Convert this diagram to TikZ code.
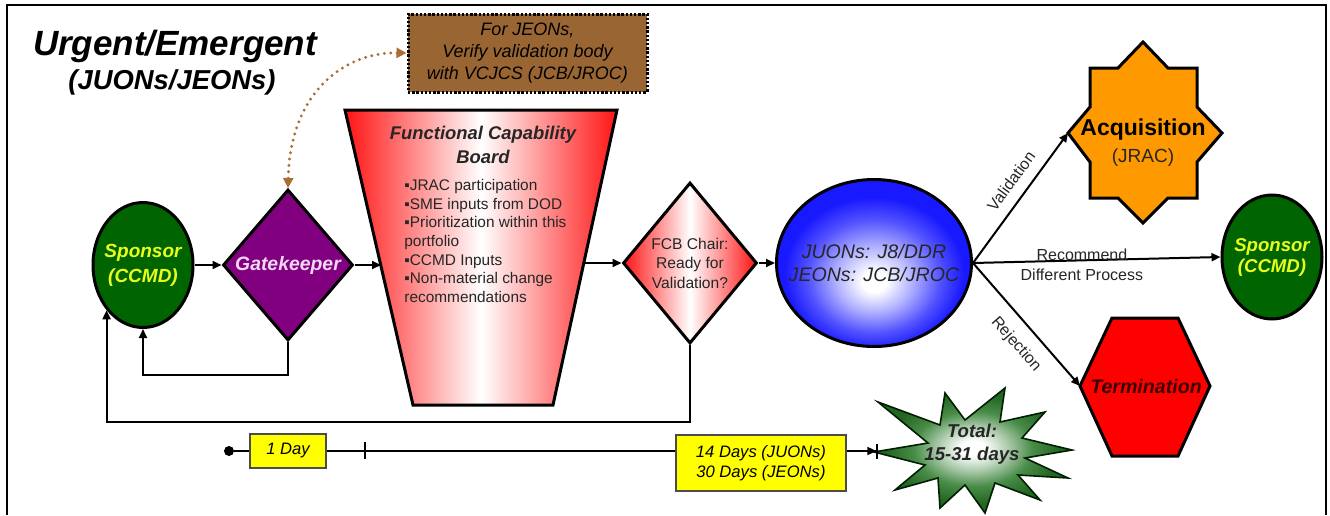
\documentclass[tikz,border=0pt]{standalone}
\usepackage{fontspec}
\setmainfont{Liberation Sans}
\usetikzlibrary{arrows.meta,shapes.geometric,calc}
\definecolor{sgreen}{RGB}{0,100,0}
\definecolor{syellow}{RGB}{232,255,30}
\definecolor{gpurple}{RGB}{128,0,128}
\definecolor{gtext}{RGB}{245,215,245}
\definecolor{bbrown}{RGB}{153,102,51}
\definecolor{dbrown}{RGB}{170,110,50}
\definecolor{aorange}{RGB}{255,153,0}
\definecolor{tred}{RGB}{255,0,0}
\definecolor{ttext}{RGB}{60,0,0}
\definecolor{byellow}{RGB}{255,255,0}
\definecolor{bblue}{RGB}{25,25,255}
\definecolor{sgreen2}{RGB}{40,120,40}
\definecolor{fred}{RGB}{255,20,20}
\pgfdeclareradialshading{blueball}{\pgfpoint{0bp}{-6bp}}{color(0bp)=(white); color(3bp)=(white); color(10bp)=(bblue!35!white); color(17bp)=(bblue!75!white); color(23bp)=(bblue); color(50bp)=(bblue)}
\pgfdeclareradialshading{greenburst}{\pgfpoint{0bp}{1bp}}{color(0bp)=(white); color(3bp)=(white); color(9bp)=(sgreen2!40!white); color(15bp)=(sgreen2!85!white); color(22bp)=(sgreen2!85!black); color(50bp)=(sgreen2!80!black)}
\newcommand{\myfs}[2]{\fontsize{#1}{#2}\selectfont}
\begin{document}
\begin{tikzpicture}[x=0.5pt,y=-0.5pt,
  conn/.style={line width=1pt,-{Triangle[length=4.5pt,width=4pt]}},
  plainline/.style={line width=0.8pt},
  outline/.style={draw=black,line width=1.5pt},
  ybox/.style={draw=black!70,line width=0.6pt,fill=byellow,inner sep=0,font=\myfs{8.3}{10}\itshape,align=center},
  lbl/.style={font=\myfs{8}{9.5},text=black!85},
  browndot/.style={draw=dbrown,line width=1.6pt,line cap=round,dash pattern=on 0pt off 3.2pt,
    {Triangle[length=5pt,width=5pt,fill=dbrown]}-{Triangle[length=5pt,width=5pt,fill=dbrown]}},
]
\useasboundingbox (0,0) rectangle (1330,515);
\fill[white] (0,0) rectangle (1330,515);
\draw[line width=1pt] (7,515) -- (7,5) -- (1326,5) -- (1326,515);

% titles
\node[font=\myfs{17.5}{20}\bfseries\itshape, anchor=base, inner sep=0] (title) at (175,55) {Urgent/Emergent};
\node[font=\myfs{13.7}{16}\bfseries\itshape, anchor=base, inner sep=0] (subtitle) at (172,89) {(JUONs/JEONs)};

% note box
\node[fill=bbrown, draw=black, line width=1.5pt, dash pattern=on 1.2pt off 0.9pt,
  minimum width=119.5pt, minimum height=39pt, inner sep=0, align=center,
  font=\myfs{9}{11}\itshape] (note) at (527.5,53) {For JEONs,\\Verify validation body\\with VCJCS (JCB/JROC)};

% sponsor left
\node[ellipse, outline, fill=sgreen, minimum width=50pt, minimum height=62.5pt, inner sep=0,
  label={[name=sponsorLT, font=\myfs{9.5}{12.5}\bfseries\itshape, text=syellow, align=center]center:{Sponsor\\(CCMD)}}]
  (sponsorL) at (143,265) {};

% gatekeeper
\node[diamond, outline, fill=gpurple, minimum width=65pt, minimum height=75.5pt, inner sep=0,
  label={[name=gateT, font=\myfs{9.7}{12}\bfseries\itshape, text=gtext]center:Gatekeeper}]
  (gate) at (288,265) {};

% funnel
\shade[left color=fred, right color=fred, middle color=white] (345,110) -- (617,110) -- (553,405) -- (413,405) -- cycle;
\draw[outline] (345,110) -- (617,110) -- (553,405) -- (413,405) -- cycle;
\coordinate (fL) at (381,265);
\coordinate (fR) at (583,263);
\node[font=\myfs{9.2}{12}\bfseries\itshape, align=center, text=black!85] (fcbTitle) at (483,145) {Functional Capability\\Board};
\node[font=\myfs{7.7}{9.33}, align=left, anchor=west, inner sep=0, text=black!85] (fcbList) at (404,241)
  {▪JRAC participation\\▪SME inputs from DOD\\▪Prioritization within this\\portfolio\\▪CCMD Inputs\\▪Non-material change\\recommendations};

% FCB chair diamond
\node[diamond, outline, left color=fred, right color=fred, middle color=white,
  minimum width=67pt, minimum height=80.5pt, inner sep=0,
  label={[name=fcbT, font=\myfs{7.8}{9.75}, text=black!85, align=center]center:{FCB Chair:\\Ready for\\Validation?}}]
  (fcb) at (690,263) {};

% blue ellipse
\node[ellipse, outline, shading=blueball, minimum width=97.5pt, minimum height=83.5pt, inner sep=0,
  label={[name=blueT, font=\myfs{9.8}{11.5}\itshape, text=black!85, align=center]center:{JUONs: J8/DDR\\JEONs: JCB/JROC}}]
  (blue) at (874,263) {};

% acquisition star
\filldraw[fill=aorange, outline] (1143,42) -- (1168,68) -- (1197,68) -- (1197,107) -- (1222,133) -- (1197,162)
  -- (1197,198) -- (1168,198) -- (1143,223) -- (1118,198) -- (1090,198) -- (1090,162) -- (1068,133)
  -- (1090,107) -- (1090,68) -- (1118,68) -- cycle;
\coordinate (acqL) at (1068,133);
\node[font=\myfs{11.5}{13}\bfseries, inner sep=0] (acqT) at (1143,130) {Acquisition};
\node[font=\myfs{9.5}{11}, inner sep=0, text=black!85] (acqT2) at (1143,158) {(JRAC)};

% sponsor right
\node[ellipse, outline, fill=sgreen, minimum width=50pt, minimum height=62pt, inner sep=0,
  label={[name=sponsorRT, font=\myfs{9.3}{10.5}\bfseries\itshape, text=syellow, align=center]center:{Sponsor\\(CCMD)}}]
  (sponsorR) at (1272,257) {};

% termination hexagon
\filldraw[fill=tred, outline] (1080,386) -- (1112,318) -- (1178,318) -- (1210,386) -- (1178,456) -- (1112,456) -- cycle;
\coordinate (termL) at (1080,386);
\node[font=\myfs{9.8}{12}\bfseries\itshape, text=ttext, inner sep=0] (termT) at (1146,386) {Termination};

% total starburst
\shadedraw[shading=greenburst, draw=black!70!sgreen, line width=0.8pt]
  (874,452) -- (928,443) -- (878,402) -- (940,425) -- (945,393) -- (965,420) -- (1005,388) -- (1000,422)
  -- (1045,412) -- (1022,438) -- (1072,450) -- (1025,458) -- (1068,478) -- (1018,475) -- (1040,500)
  -- (995,483) -- (985,513) -- (965,485) -- (940,508) -- (938,478) -- (895,490) -- (925,465) -- cycle;
\coordinate (totaltip) at (878,451);
\node[font=\myfs{9.3}{11.5}\bfseries\itshape, align=center, text=black!85, inner sep=0] (totalT) at (972,444) {Total:\\15-31 days};

% main flow connectors
\draw[conn] (sponsorL.east) -- (gate.west);
\draw[conn] (gate.east) -- (fL);
\draw[conn] (fR) -- (fcb.west);
\draw[conn] (fcb.east) -- (blue.west);
\draw[conn] (blue.east) -- node[lbl, sloped, above=2pt, pos=0.55] (valL) {Validation} (acqL);
\draw[conn] (blue.east) -- node[lbl, pos=0.44, yshift=2.8pt] (recL) {Recommend}
  node[lbl, pos=0.44, yshift=-7pt] (recL2) {Different Process} (sponsorR.west);
\draw[conn] (blue.east) -- node[lbl, sloped, below=3pt, pos=0.55] (rejL) {Rejection} (termL);

% return loops
\coordinate (loopA) at (0,375);
\coordinate (loopB) at (0,422);
\draw[conn] (gate.south) -- (gate.south |- loopA) -| (sponsorL.south);
\draw[conn] (fcb.south) -- (fcb.south |- loopB) -| (sponsorL.south west);

% dotted link
\draw[browndot] (note.west) .. controls (345,52) and (290,92) .. (gate.north);

% timeline
\node[circle, fill=black, minimum size=5pt, inner sep=0] (tdot) at (229,451) {};
\node[ybox, minimum width=38pt, minimum height=17pt] (day1) at (288,451) {1 Day};
\node[ybox, minimum width=85pt, minimum height=28pt] (days14) at (761,463) {14 Days (JUONs)\\30 Days (JEONs)};
\coordinate (tick) at (365,451);
\draw[plainline] (tdot) -- (day1.west);
\draw[plainline] (day1.east) -- (days14.west |- day1);
\draw[plainline] ($(tick)+(0,-9)$) -- ($(tick)+(0,8)$);
\draw[line width=0.8pt, -{Triangle[length=4.5pt,width=4pt] Bar[width=7.5pt,line width=0.8pt]}] (days14.east |- day1) -- (totaltip);
\end{tikzpicture}
\end{document}
